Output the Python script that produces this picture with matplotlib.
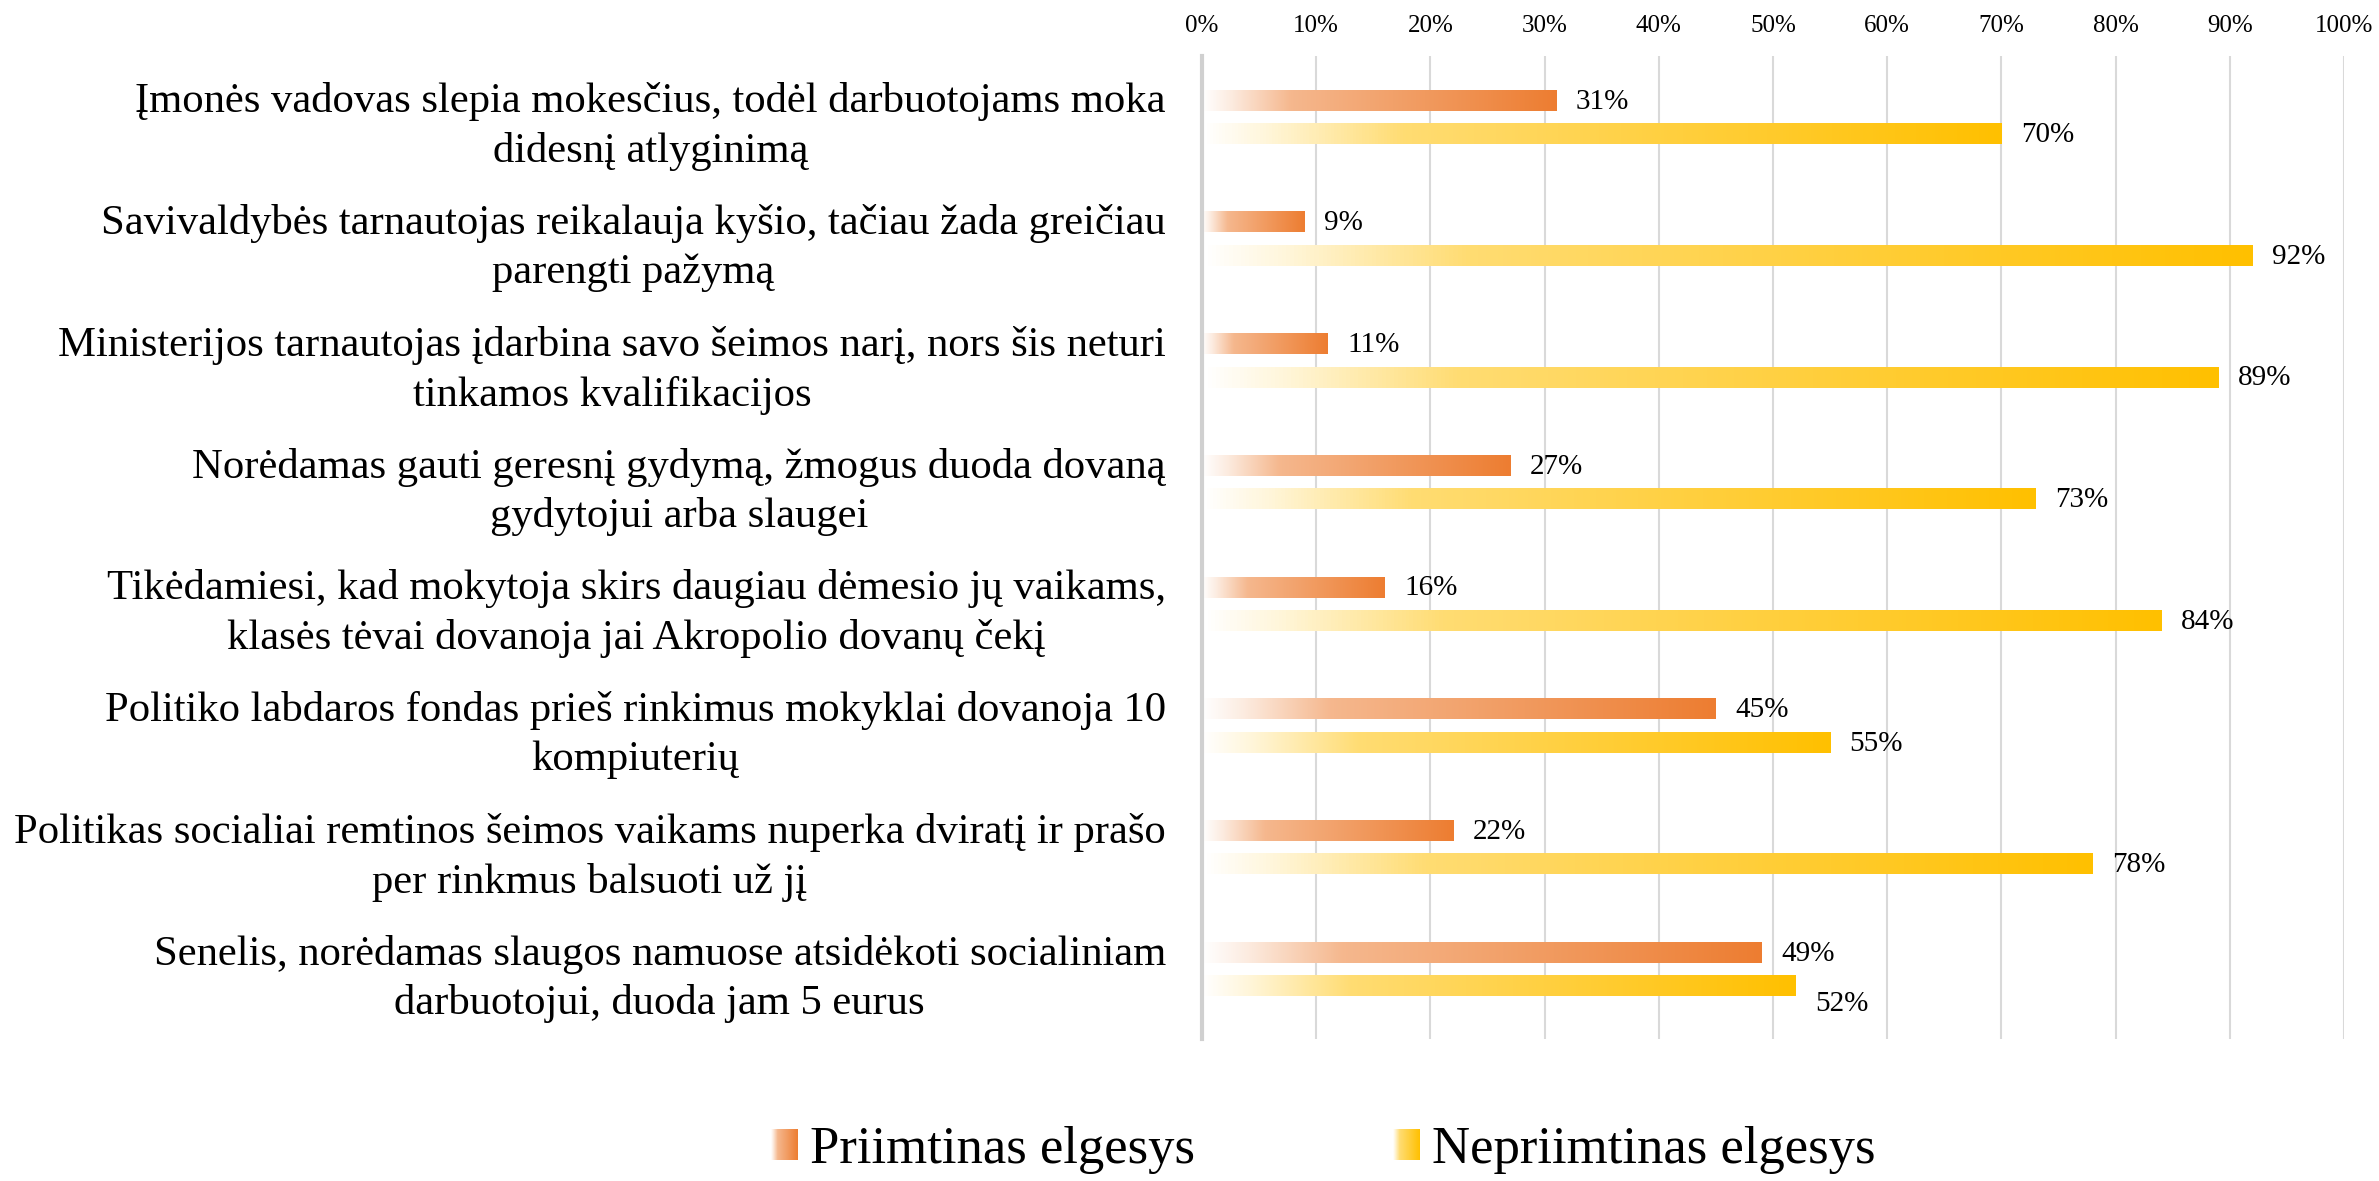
import numpy as np
import matplotlib
matplotlib.use('Agg')
import matplotlib.pyplot as plt
from matplotlib.colors import LinearSegmentedColormap, to_rgb
from matplotlib.legend_handler import HandlerBase
from matplotlib.image import BboxImage
from matplotlib.transforms import Bbox, TransformedBbox
from matplotlib.patches import Rectangle

categories = [
    "Įmonės vadovas slepia mokesčius, todėl darbuotojams moka\ndidesnį atlyginimą",
    "Savivaldybės tarnautojas reikalauja kyšio, tačiau žada greičiau\nparengti pažymą",
    "Ministerijos tarnautojas įdarbina savo šeimos narį, nors šis neturi\ntinkamos kvalifikacijos",
    "Norėdamas gauti geresnį gydymą, žmogus duoda dovaną\ngydytojui arba slaugei",
    "Tikėdamiesi, kad mokytoja skirs daugiau dėmesio jų vaikams,\nklasės tėvai dovanoja jai Akropolio dovanų čekį",
    "Politiko labdaros fondas prieš rinkimus mokyklai dovanoja 10\nkompiuterių",
    "Politikas socialiai remtinos šeimos vaikams nuperka dviratį ir prašo\nper rinkmus balsuoti už jį",
    "Senelis, norėdamas slaugos namuose atsidėkoti socialiniam\ndarbuotojui, duoda jam 5 eurus",
]
acceptable = [31, 9, 11, 27, 16, 45, 22, 49]
unacceptable = [70, 92, 89, 73, 84, 55, 78, 52]
series_names = ["Priimtinas elgesys", "Nepriimtinas elgesys"]
series_colors = ["#ED7D31", "#FFC000"]
xticks = list(range(0, 101, 10))
xtick_labels = [f"{v}%" for v in xticks]

plt.rcParams['font.family'] = ['Liberation Serif', 'DejaVu Serif']


def grad_cmap(hexcol):
    c = np.array(to_rgb(hexcol))
    w = np.ones(3)
    stops = [(0.0, 0.0), (0.08, 0.15), (0.25, 0.55), (1.0, 1.0)]
    return LinearSegmentedColormap.from_list(
        'g' + hexcol, [(p, tuple(w * (1 - f) + c * f)) for p, f in stops])


cmaps = [grad_cmap(c) for c in series_colors]
grad = np.linspace(0, 1, 256).reshape(1, -1)

fig = plt.figure(figsize=(23.79, 11.81), dpi=100)
ax = fig.add_axes([0.50525, 0.12024, 0.48003, 0.83234])

y = np.arange(len(categories))
off = 0.1376
h = 0.172

bars_a = ax.barh(y - off, acceptable, height=h, color='none', edgecolor='none')
bars_u = ax.barh(y + off, unacceptable, height=h, color='none', edgecolor='none')

for bars, cm in ((bars_a, cmaps[0]), (bars_u, cmaps[1])):
    for b in bars:
        x0, y0, w_, h_ = b.get_x(), b.get_y(), b.get_width(), b.get_height()
        ax.imshow(grad, extent=(x0, x0 + w_, y0, y0 + h_), aspect='auto',
                  cmap=cm, interpolation='bicubic', zorder=2)

# data labels
for i, (va_, vu) in enumerate(zip(acceptable, unacceptable)):
    ax.annotate(f"{va_}%", xy=(va_, y[i] - off), xytext=(14, -1),
                textcoords='offset points', ha='left', va='center', fontsize=21)
    dy = -13 if abs(vu - va_) < 5 else -1
    ax.annotate(f"{vu}%", xy=(vu, y[i] + off), xytext=(14, dy),
                textcoords='offset points', ha='left', va='center', fontsize=21)

ax.set_xlim(0, 100)
ax.set_ylim(7.575, -0.5)
ax.set_xticks(xticks)
ax.set_xticklabels(xtick_labels, fontsize=18)
ax.xaxis.tick_top()
ax.set_yticks(y)
ax.set_yticklabels(categories, fontsize=30.7, multialignment='center', linespacing=1.36)
ax.tick_params(axis='x', length=0, pad=14)
ax.tick_params(axis='y', length=0, pad=26)
ax.grid(axis='x', color='#D9D9D9', linewidth=1.5, zorder=0)
ax.set_axisbelow(True)
for s in ('top', 'right', 'bottom'):
    ax.spines[s].set_visible(False)
ax.spines['left'].set_color('#D0D0D0')
ax.spines['left'].set_linewidth(3)


class HandlerGrad(HandlerBase):
    def __init__(self, cmap):
        super().__init__()
        self.cmap = cmap

    def create_artists(self, legend, orig_handle, xdescent, ydescent,
                       width, height, fontsize, trans):
        bb = Bbox.from_bounds(-xdescent, -ydescent, width, height)
        im = BboxImage(TransformedBbox(bb, trans), cmap=self.cmap,
                       interpolation='bicubic')
        im.set_data(grad)
        return [im]


handles = [Rectangle((0, 0), 1, 1, color=c) for c in series_colors]
fig.legend(handles, series_names, loc='center left',
           bbox_to_anchor=(771 / 2379, 0.0262), ncol=2, frameon=False,
           fontsize=38, handlelength=0.51, handleheight=0.51,
           handletextpad=0.23, columnspacing=3.75, borderpad=0, borderaxespad=0,
           handler_map={handles[0]: HandlerGrad(cmaps[0]),
                        handles[1]: HandlerGrad(cmaps[1])})

fig.savefig('out.png', dpi=100)
